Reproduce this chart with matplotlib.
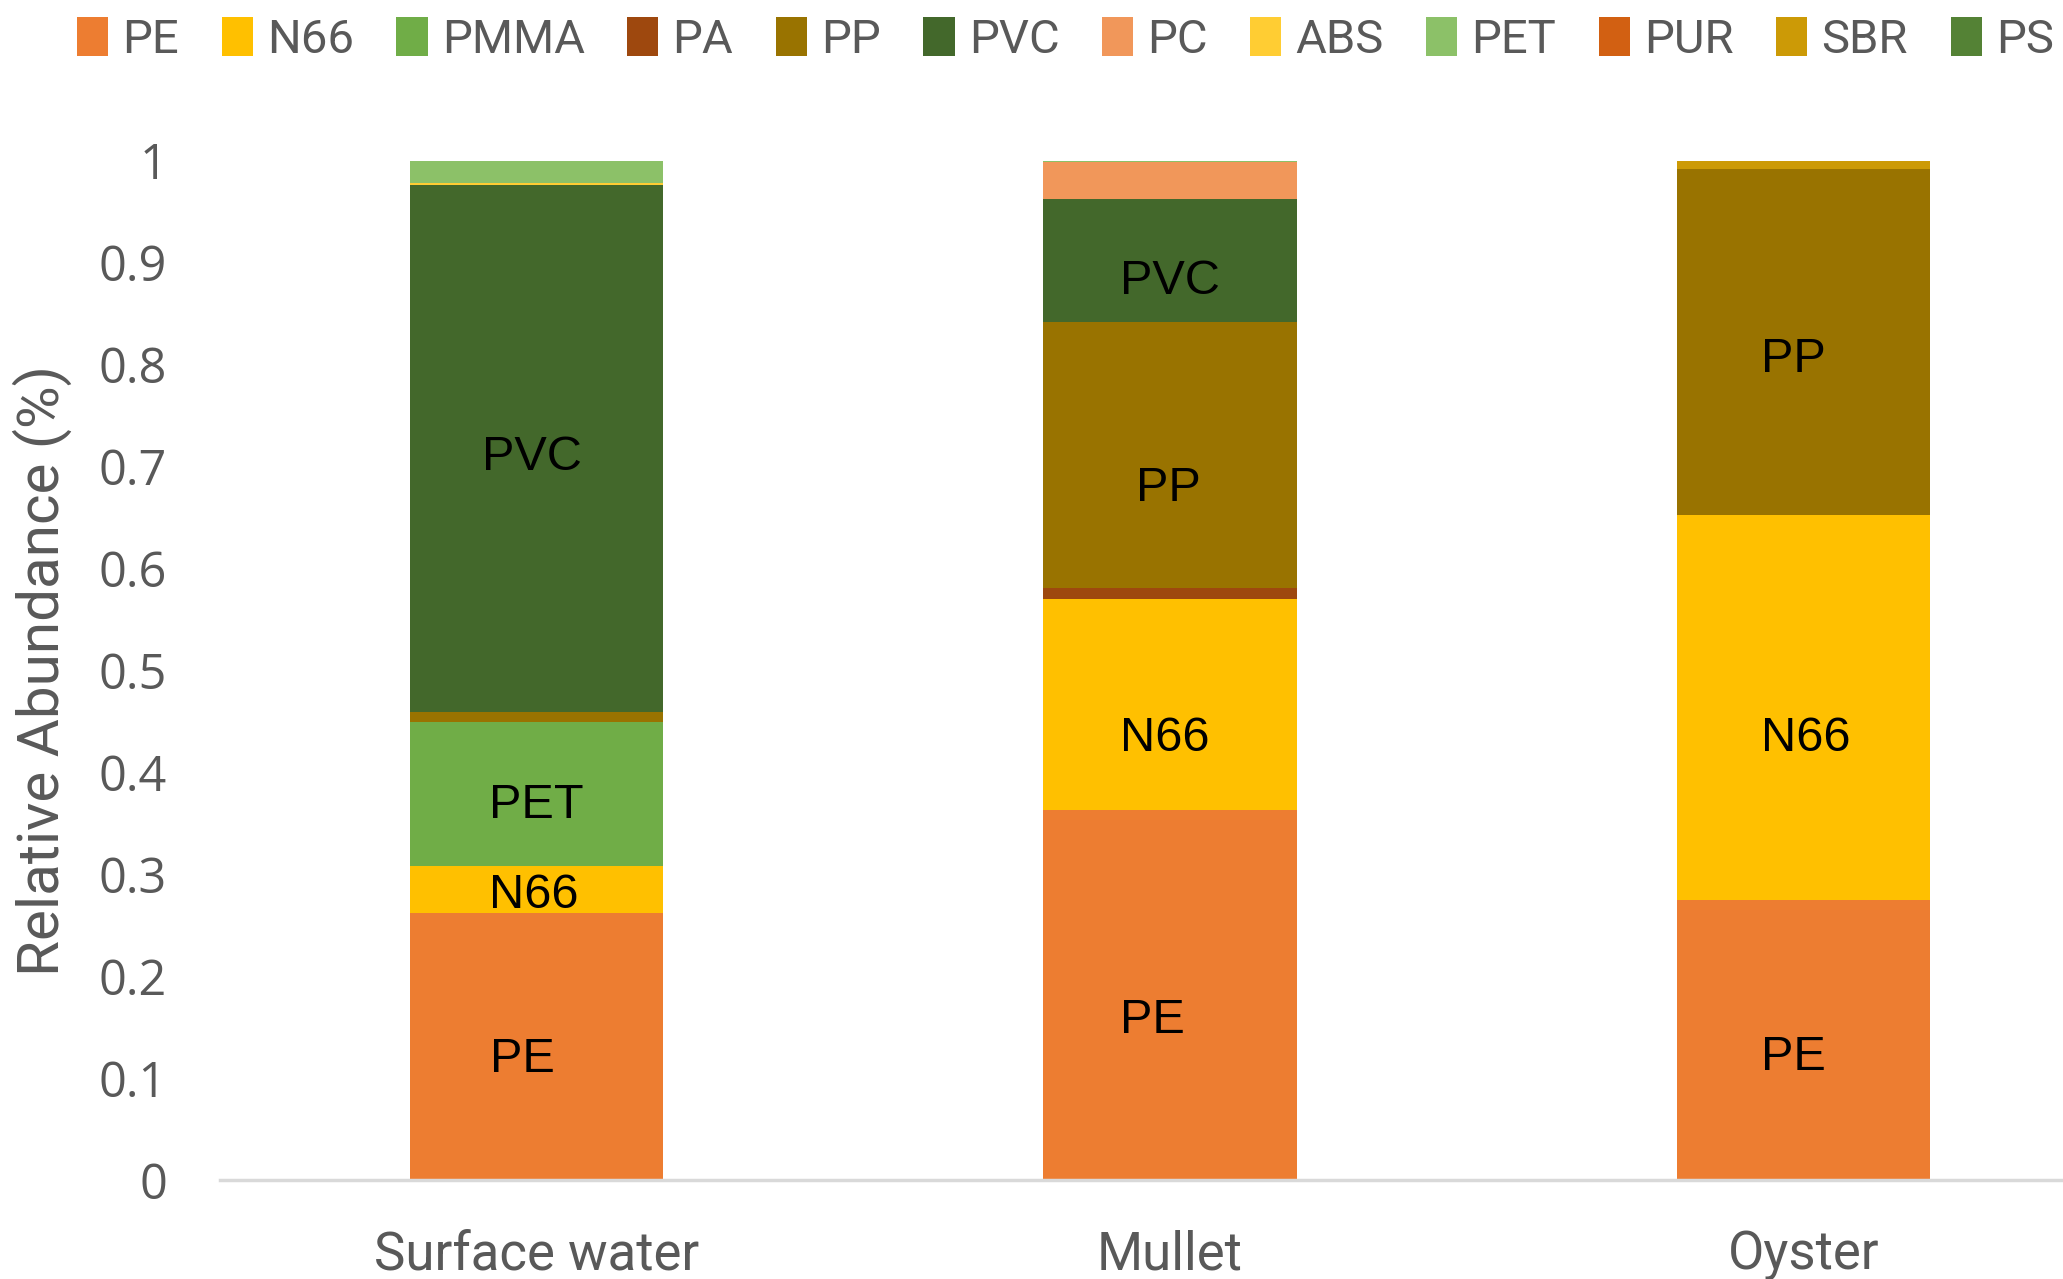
import matplotlib
matplotlib.use("Agg")
import matplotlib.pyplot as plt
from matplotlib import font_manager
import numpy as np

categories = ["Surface water", "Mullet", "Oyster"]
polymers = ["PE", "N66", "PMMA", "PA", "PP", "PVC", "PC", "ABS", "PET", "PUR", "SBR", "PS"]
colors = ["#ED7D31", "#FFC000", "#70AD47", "#9E480E", "#997300", "#43682B",
          "#F1975A", "#FFCD33", "#8CC168", "#D26012", "#CC9A06", "#548235"]

# values per polymer for [Surface water, Mullet, Oyster]
PE   = [0.262, 0.363, 0.275]
N66  = [0.046, 0.207, 0.377]
PMMA = [0.141, 0.000, 0.000]
PA   = [0.000, 0.011, 0.000]
PP   = [0.010, 0.261, 0.340]
PVC  = [0.517, 0.120, 0.000]
PC   = [0.000, 0.037, 0.000]
ABS  = [0.002, 0.000, 0.000]
PET  = [0.022, 0.001, 0.000]
PUR  = [0.000, 0.000, 0.000]
SBR  = [0.000, 0.000, 0.008]
PS   = [0.000, 0.000, 0.000]
series = [PE, N66, PMMA, PA, PP, PVC, PC, ABS, PET, PUR, SBR, PS]

# in-bar annotations
ann_cat  = [0, 0, 0, 0, 1, 1, 1, 1, 2, 2, 2]
ann_y    = [0.709, 0.367, 0.279, 0.118, 0.881, 0.678, 0.433, 0.156, 0.805, 0.433, 0.120]
ann_dx   = [-0.008, 0.0, -0.004, -0.023, 0.0, -0.002, -0.008, -0.027, -0.015, 0.004, -0.015]
ann_text = ["PVC", "PET", "N66", "PE", "PVC", "PP", "N66", "PE", "PP", "N66", "PE"]

yticks = [0, 0.1, 0.2, 0.3, 0.4, 0.5, 0.6, 0.7, 0.8, 0.9, 1.0]
ytick_labels = ["0", "0.1", "0.2", "0.3", "0.4", "0.5", "0.6", "0.7", "0.8", "0.9", "1"]

names = {f.name for f in font_manager.fontManager.ttflist}
narrow = "Liberation Sans Narrow" if "Liberation Sans Narrow" in names else "Roboto"
GRAY = "#595959"

fig = plt.figure(figsize=(20.63, 12.79), dpi=100)
ax = fig.add_axes([220/2063, 1 - 1180/1279, 1 - 220/2063, (1180 - 160.7)/1279])

x = np.arange(len(categories))
bottom = np.zeros(len(categories))
handles = []
for name, vals, c in zip(polymers, series, colors):
    v = np.array(vals)
    b = ax.bar(x, v, width=0.4, bottom=bottom, color=c, label=name, linewidth=0)
    handles.append(b)
    bottom += v

for ci, dx, yv, t in zip(ann_cat, ann_dx, ann_y, ann_text):
    ax.text(x[ci] + dx, yv, t, ha="center", va="center", fontsize=35,
            family="Liberation Sans", color="black")

ax.set_xlim(-0.5, 2.41)
ax.set_ylim(0, 1)
ax.set_yticks(yticks)
ax.set_yticklabels(ytick_labels, family="Open Sans", fontsize=35, color=GRAY)
ax.set_xticks(x)
ax.set_xticklabels(categories, family=narrow, fontsize=38, color=GRAY)
ax.tick_params(axis="y", length=0, pad=38)
ax.tick_params(axis="x", length=0, pad=36)
for s in ["top", "right", "left"]:
    ax.spines[s].set_visible(False)
ax.spines["bottom"].set_color("#D9D9D9")
ax.spines["bottom"].set_linewidth(2.5)

fig.text(42/2063, 1 - 671/1279, "Relative Abundance (%)", rotation=90,
         ha="center", va="center", family=narrow, fontsize=42, color=GRAY)

leg = fig.legend(handles=handles, labels=polymers, loc="upper left",
                 bbox_to_anchor=(44/2063, 1.0 + 16/1279), ncol=12, frameon=False,
                 prop={"family": narrow, "size": 34},
                 handlelength=0.66, handleheight=0.9, handletextpad=0.3,
                 columnspacing=0.9, borderaxespad=0.3)
for t in leg.get_texts():
    t.set_color(GRAY)

fig.savefig("out.png", dpi=100)
